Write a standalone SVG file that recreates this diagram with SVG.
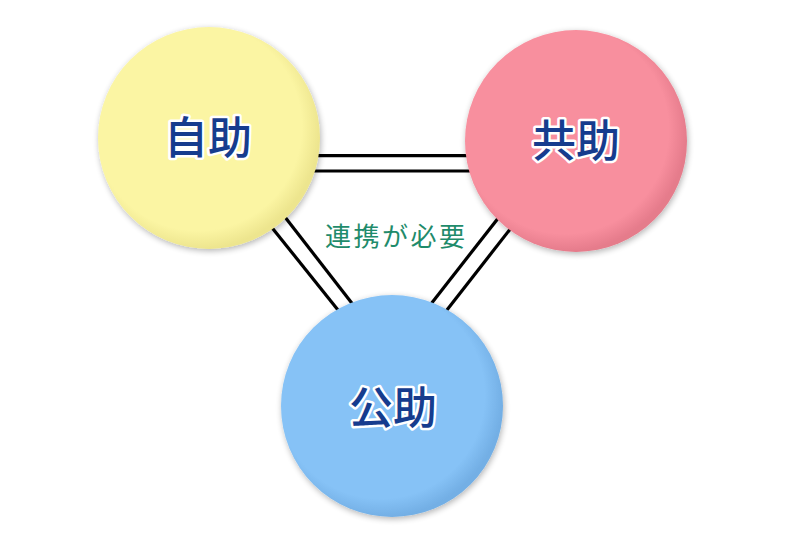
<svg xmlns="http://www.w3.org/2000/svg" width="800" height="545" viewBox="0 0 800 545">
<style>
.lbl{font-family:"Noto Sans CJK JP","Noto Sans CJK SC",sans-serif;font-size:44px;font-weight:500;fill:#163C8E;stroke:#ffffff;stroke-width:5px;paint-order:stroke;stroke-linejoin:round;text-anchor:middle}
.note{font-family:"Noto Sans CJK JP","Noto Sans CJK SC",sans-serif;font-size:26px;font-weight:400;fill:#1F8B6B;text-anchor:middle}
.conn line{stroke:#000;stroke-width:3.2px}
</style>
<defs>
<radialGradient id="gy" cx="0.45" cy="0.45" r="0.55">
<stop offset="0.85" stop-color="#FBF5A3"/><stop offset="1" stop-color="#EDE58E"/>
</radialGradient>
<radialGradient id="gp" cx="0.45" cy="0.45" r="0.55">
<stop offset="0.85" stop-color="#F88F9E"/><stop offset="1" stop-color="#E57B8B"/>
</radialGradient>
<radialGradient id="gb" cx="0.45" cy="0.45" r="0.55">
<stop offset="0.85" stop-color="#86C2F6"/><stop offset="1" stop-color="#73AFE5"/>
</radialGradient>
<filter id="sh" x="-20%" y="-20%" width="140%" height="140%">
<feGaussianBlur in="SourceAlpha" stdDeviation="3"/>
<feOffset dx="1" dy="2" result="b"/>
<feComponentTransfer><feFuncA type="linear" slope="0.3"/></feComponentTransfer>
<feMerge><feMergeNode/><feMergeNode in="SourceGraphic"/></feMerge>
</filter>
</defs>
<rect width="800" height="545" fill="#ffffff"/>
<g id="connectors" class="conn">
<line x1="300" y1="155.7" x2="480" y2="155.7"/>
<line x1="300" y1="171" x2="480" y2="171"/>
<line x1="260.8" y1="213.7" x2="349.2" y2="323.9"/>
<line x1="273.7" y1="202.5" x2="363" y2="317.5"/>
<line x1="509.6" y1="203.6" x2="420.4" y2="317.4"/>
<line x1="522.3" y1="213.5" x2="436" y2="324"/>
</g>
<g id="jijo">
<circle cx="209" cy="138" r="111" fill="url(#gy)" filter="url(#sh)"/>
<text class="lbl" x="208" y="154">自助</text>
</g>
<g id="kyojo">
<circle cx="576" cy="141" r="111" fill="url(#gp)" filter="url(#sh)"/>
<text class="lbl" x="576" y="157">共助</text>
</g>
<g id="kojo">
<circle cx="392" cy="406" r="111" fill="url(#gb)" filter="url(#sh)"/>
<text class="lbl" x="393" y="424">公助</text>
</g>
<g id="label">
<text class="note" x="395" y="246" textLength="140" lengthAdjust="spacing">連携が必要</text>
</g>
</svg>
